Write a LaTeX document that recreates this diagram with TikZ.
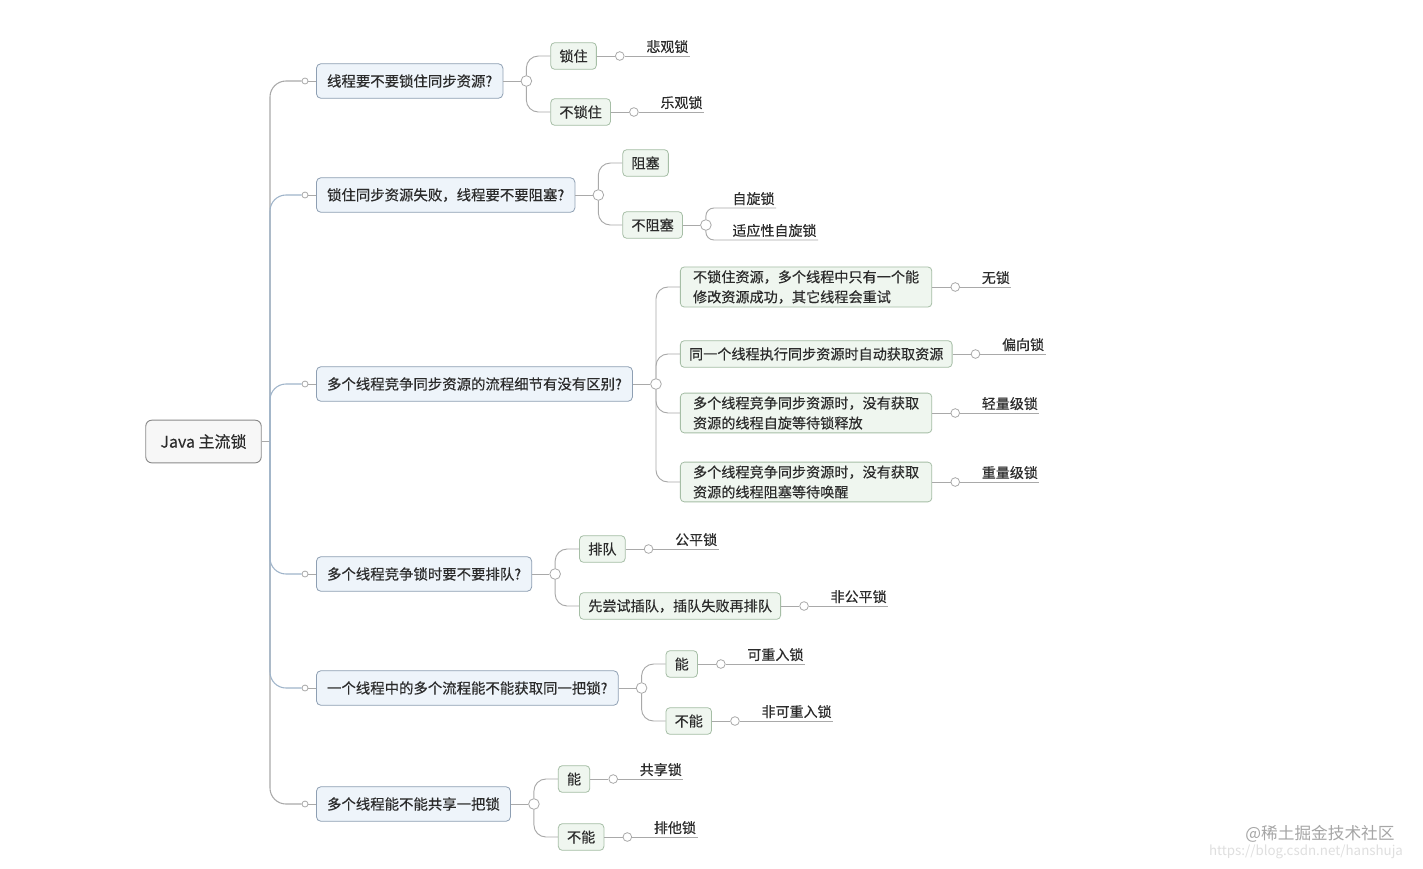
\documentclass[tikz,border=0pt]{standalone}
\usepackage{fontspec}
\setmainfont{Noto Sans CJK SC}[FakeBold=0.35]
\newfontfamily\wmfont{Noto Sans CJK SC}
\usetikzlibrary{calc}
\definecolor{edge}{HTML}{A9A9A9}
\definecolor{trunkc}{HTML}{9FB4CA}
\definecolor{lonefill}{HTML}{EEF4FA}
\definecolor{loneline}{HTML}{8E9FB3}
\definecolor{ltwofill}{HTML}{EFF6EF}
\definecolor{ltwoline}{HTML}{A6BEA6}
\definecolor{rootfill}{HTML}{F7F7F7}
\definecolor{rootline}{HTML}{8A8A8A}
\definecolor{txt}{HTML}{2B2B2B}
\begin{document}
\begin{tikzpicture}[x=0.75pt,y=-0.75pt,
 every node/.style={text=txt},
 rootbox/.style={draw=rootline, fill=rootfill, rounded corners=4.5pt, line width=0.7pt, font=\fontsize{12}{14}\selectfont, minimum height=32pt, inner xsep=11pt},
 lone/.style={draw=loneline, fill=lonefill, rounded corners=3.5pt, line width=0.6pt, font=\fontsize{10.8}{15}\selectfont, minimum height=26pt, inner xsep=8pt, anchor=west},
 ltwo/.style={draw=ltwoline, fill=ltwofill, rounded corners=3pt, line width=0.6pt, font=\fontsize{10.6}{15}\selectfont, minimum height=20pt, inner xsep=6.5pt, anchor=west, align=left},
 ltwob/.style={ltwo, inner xsep=9.5pt, inner ysep=2.5pt},
 leaf/.style={font=\fontsize{10.5}{13}\selectfont, inner xsep=1pt, inner ysep=2pt, anchor=south west},
 dotc/.style={circle, draw=edge, fill=white, line width=0.6pt, inner sep=0pt, minimum size=4.5pt},
 leafc/.style={circle, draw=edge, fill=white, line width=0.6pt, inner sep=0pt, minimum size=6.5pt},
 bigc/.style={circle, draw=edge, fill=white, line width=0.6pt, inner sep=0pt, minimum size=8pt},
 conn/.style={draw=edge, line width=0.7pt},
 curv/.style={conn, rounded corners=9pt},
 tcurv/.style={draw=trunkc, line width=0.8pt, rounded corners=12pt},
 gcurv/.style={draw=edge, line width=0.8pt, rounded corners=12pt},
]
\fill[white] (0,0) rectangle (1423,868);
\useasboundingbox (0,0) rectangle (1423,868);

% root
\node[rootbox] (root) at (203.5,441.5) {Java 主流锁};
\coordinate (trunk) at (270,441.5);

% level 1
\node[lone] (l1a) at (316,81) {线程要不要锁住同步资源?};
\node[lone] (l1b) at (316,195) {锁住同步资源失败，线程要不要阻塞?};
\node[lone] (l1c) at (316,384) {多个线程竞争同步资源的流程细节有没有区别?};
\node[lone] (l1d) at (316,574) {多个线程竞争锁时要不要排队?};
\node[lone] (l1e) at (316,688) {一个线程中的多个流程能不能获取同一把锁?};
\node[lone] (l1f) at (316,804) {多个线程能不能共享一把锁};

\foreach \n/\y in {a/81,b/195,c/384,d/574,e/688,f/804}{
  \node[dotc] (s\n) at (305,\y) {};
}

% trunk
\draw[conn] (root.east) -- (trunk);
\draw[gcurv] (trunk) |- (sa);
\draw[gcurv] (trunk) |- (sf);
\draw[tcurv] (trunk) |- (sb);
\draw[tcurv] (trunk) |- (sc);
\draw[tcurv] (trunk) |- (sd);
\draw[tcurv] (trunk) |- (se);
\foreach \n in {a,b,c,d,e,f}{
  \draw[conn] (s\n) -- (l1\n.west);
}

% big circles
\foreach \n in {a,b,c,d,e,f}{
  \path (l1\n.east) ++(23,0) node[bigc] (b\n) {};
  \draw[conn] (l1\n.east) -- (b\n);
}

% ---- branch a
\path (ba) ++(24,-25) node[ltwo] (ca1) {锁住};
\path (ba) ++(24,31) node[ltwo] (ca2) {不锁住};
\draw[curv] (ba.north) |- (ca1.west);
\draw[curv] (ba.south) |- (ca2.west);
\path (ca1.east) ++(23,0) node[leafc] (da1) {};
\path (ca2.east) ++(23,0) node[leafc] (da2) {};
\path (da1) ++(25,0) node[leaf] (fa1) {悲观锁};
\path (da2) ++(25,0) node[leaf] (fa2) {乐观锁};
\draw[conn] (ca1.east) -- (da1);
\draw[conn] (ca2.east) -- (da2);
\draw[conn] (da1) -- (fa1.south east);
\draw[conn] (da2) -- (fa2.south east);

% ---- branch b
\path (bb) ++(24,-32) node[ltwo] (cb1) {阻塞};
\path (bb) ++(24,30) node[ltwo] (cb2) {不阻塞};
\draw[curv] (bb.north) |- (cb1.west);
\draw[curv] (bb.south) |- (cb2.west);
\path (cb2.east) ++(23,0) node[bigc] (db2) {};
\draw[conn] (cb2.east) -- (db2);
\path (db2) ++(25,-17) node[leaf] (fb1) {自旋锁};
\path (db2) ++(25,15) node[leaf] (fb2) {适应性自旋锁};
\draw[conn, rounded corners=6pt] (db2.north) |- (fb1.south west) -- (fb1.south east);
\draw[conn, rounded corners=6pt] (db2.south) |- (fb2.south west) -- (fb2.south east);

% ---- branch c
\path (bc) ++(24,-97) node[ltwob] (cc1) {不锁住资源，多个线程中只有一个能\\修改资源成功，其它线程会重试};
\path (bc) ++(24,-30) node[ltwo] (cc2) {同一个线程执行同步资源时自动获取资源};
\path (bc) ++(24,29) node[ltwob] (cc3) {多个线程竞争同步资源时，没有获取\\资源的线程自旋等待锁释放};
\path (bc) ++(24,98) node[ltwob] (cc4) {多个线程竞争同步资源时，没有获取\\资源的线程阻塞等待唤醒};
\draw[curv] (bc.north) |- (cc1.west);
\draw[curv] (bc.north) |- (cc2.west);
\draw[curv] (bc.south) |- (cc3.west);
\draw[curv] (bc.south) |- (cc4.west);
\foreach \i/\t in {1/无锁,2/偏向锁,3/轻量级锁,4/重量级锁}{
  \path (cc\i.east) ++(23,0) node[leafc] (dc\i) {};
  \path (dc\i) ++(25,0) node[leaf] (fc\i) {\t};
  \draw[conn] (cc\i.east) -- (dc\i);
  \draw[conn] (dc\i) -- (fc\i.south east);
}

% ---- branch d
\path (bd) ++(24,-25) node[ltwo] (cd1) {排队};
\path (bd) ++(24,32) node[ltwo] (cd2) {先尝试插队，插队失败再排队};
\draw[curv] (bd.north) |- (cd1.west);
\draw[curv] (bd.south) |- (cd2.west);
\foreach \i/\t in {1/公平锁,2/非公平锁}{
  \path (cd\i.east) ++(23,0) node[leafc] (dd\i) {};
  \path (dd\i) ++(25,0) node[leaf] (fd\i) {\t};
  \draw[conn] (cd\i.east) -- (dd\i);
  \draw[conn] (dd\i) -- (fd\i.south east);
}

% ---- branch e
\path (be) ++(24,-24) node[ltwo] (ce1) {能};
\path (be) ++(24,33) node[ltwo] (ce2) {不能};
\draw[curv] (be.north) |- (ce1.west);
\draw[curv] (be.south) |- (ce2.west);
\foreach \i/\t in {1/可重入锁,2/非可重入锁}{
  \path (ce\i.east) ++(23,0) node[leafc] (de\i) {};
  \path (de\i) ++(25,0) node[leaf] (fe\i) {\t};
  \draw[conn] (ce\i.east) -- (de\i);
  \draw[conn] (de\i) -- (fe\i.south east);
}

% ---- branch f
\path (bf) ++(24,-25) node[ltwo] (cf1) {能};
\path (bf) ++(24,33) node[ltwo] (cf2) {不能};
\draw[curv] (bf.north) |- (cf1.west);
\draw[curv] (bf.south) |- (cf2.west);
\foreach \i/\t in {1/共享锁,2/排他锁}{
  \path (cf\i.east) ++(23,0) node[leafc] (df\i) {};
  \path (df\i) ++(25,0) node[leaf] (ff\i) {\t};
  \draw[conn] (cf\i.east) -- (df\i);
  \draw[conn] (df\i) -- (ff\i.south east);
}

% watermark
\node[text=gray!70, font=\wmfont\fontsize{12.5}{14}\selectfont] (wm) at (1320,834) {@稀土掘金技术社区};
\node[text=gray!25, font=\wmfont\fontsize{10}{12}\selectfont] (url) at (1306,852) {https://blog.csdn.net/hanshuja};
\end{tikzpicture}
\end{document}
